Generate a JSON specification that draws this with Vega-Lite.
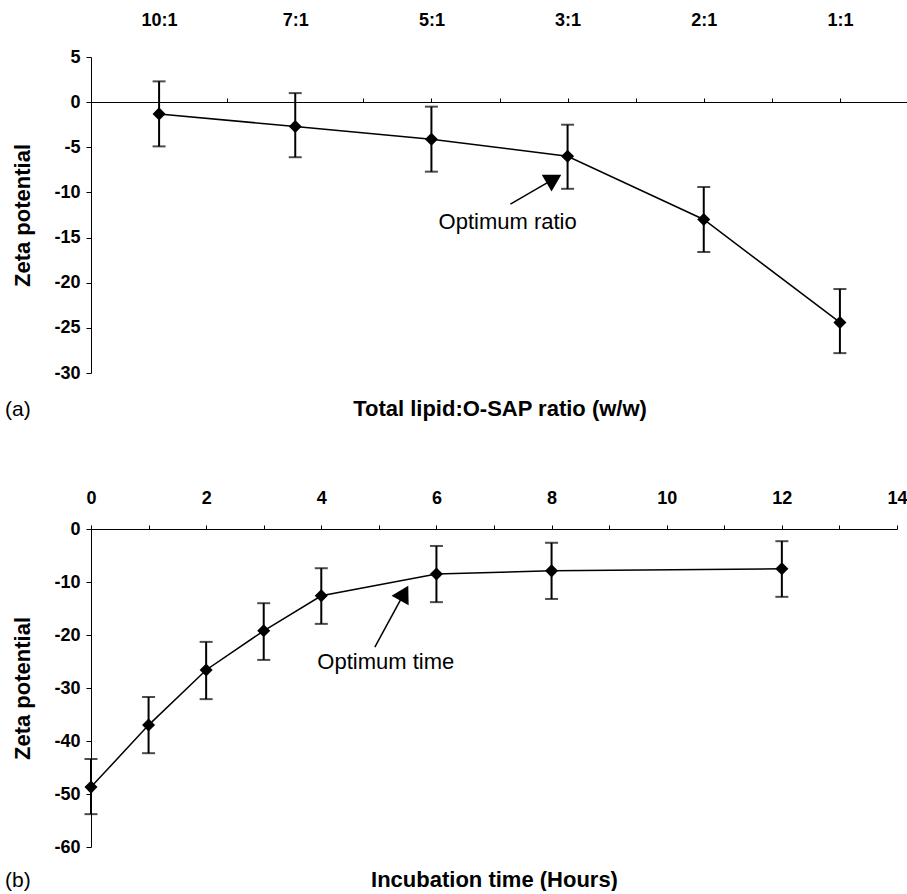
{
  "$schema": "https://vega.github.io/schema/vega-lite/v6.json",
  "background": "white",
  "padding": {"left": 4, "top": 11, "right": 0, "bottom": 0},
  "config": {
    "view": {"stroke": null},
    "font": "Liberation Sans",
    "axis": {
      "grid": false,
      "domainColor": "black",
      "tickColor": "black",
      "labelColor": "black",
      "titleColor": "black",
      "labelFont": "Liberation Sans",
      "titleFont": "Liberation Sans",
      "labelFontWeight": "bold",
      "titleFontWeight": "bold",
      "labelFontSize": 18,
      "titleFontSize": 22,
      "domainWidth": 1,
      "tickWidth": 1
    },
    "title": {"font": "Liberation Sans", "color": "black"}
  },
  "datasets": {
    "ratio": [
      {"idx": 1, "ratio": "10:1", "zeta": -1.3, "lo": -4.9, "hi": 2.3},
      {"idx": 2, "ratio": "7:1", "zeta": -2.7, "lo": -6.1, "hi": 1.0},
      {"idx": 3, "ratio": "5:1", "zeta": -4.1, "lo": -7.7, "hi": -0.5},
      {"idx": 4, "ratio": "3:1", "zeta": -6.0, "lo": -9.6, "hi": -2.5},
      {"idx": 5, "ratio": "2:1", "zeta": -13.0, "lo": -16.6, "hi": -9.4},
      {"idx": 6, "ratio": "1:1", "zeta": -24.4, "lo": -27.8, "hi": -20.7}
    ],
    "time": [
      {"hours": 0, "zeta": -48.7, "lo": -53.8, "hi": -43.4},
      {"hours": 1, "zeta": -37.0, "lo": -42.3, "hi": -31.7},
      {"hours": 2, "zeta": -26.6, "lo": -32.1, "hi": -21.3},
      {"hours": 3, "zeta": -19.2, "lo": -24.7, "hi": -14.0},
      {"hours": 4, "zeta": -12.6, "lo": -17.9, "hi": -7.4},
      {"hours": 6, "zeta": -8.5, "lo": -13.8, "hi": -3.2},
      {"hours": 8, "zeta": -7.9, "lo": -13.2, "hi": -2.6},
      {"hours": 12, "zeta": -7.5, "lo": -12.8, "hi": -2.3}
    ],
    "noteA": [
      {"label": "Optimum ratio", "tx": 3.56, "ty": -13.3, "ax": 3.58, "ay": -11.3, "hx": 3.9, "hy": -8.5}
    ],
    "noteB": [
      {"label": "Optimum time", "tx": 5.12, "ty": -25.1, "ax": 4.93, "ay": -22.3, "hx": 5.44, "hy": -12.1}
    ]
  },
  "spacing": 69,
  "vconcat": [
    {
      "width": 817,
      "height": 316,
      "title": {"text": "(a)", "orient": "bottom", "anchor": "start", "frame": "bounds", "offset": -20, "dx": -7, "fontSize": 21, "fontWeight": "normal"},
      "resolve": {"axis": {"x": "independent"}},
      "layer": [
        {
          "data": {"name": "ratio"},
          "mark": {"type": "line", "color": "black", "strokeWidth": 1.5},
          "encoding": {
            "x": {"field": "idx", "type": "quantitative", "scale": {"domain": [0.5, 6.5], "nice": false, "zero": false},
              "axis": {"orient": "top", "offset": -45, "values": [1, 1.5, 2, 2.5, 3, 3.5, 4, 4.5, 5, 5.5, 6, 6.5], "tickSize": 4,
                "labelExpr": "datum.value % 1 == 0 ? ['', '10:1', '7:1', '5:1', '3:1', '2:1', '1:1'][datum.value] : ''",
                "labelPadding": 69, "labelFlush": false, "labelOverlap": false, "title": null}},
            "y": {"field": "zeta", "type": "quantitative", "scale": {"domain": [-30, 5], "nice": false, "zero": false},
              "axis": {"values": [5, 0, -5, -10, -15, -20, -25, -30], "labelExpr": "toString(datum.value)", "tickSize": 5, "labelPadding": 6, "title": "Zeta potential", "titlePadding": 19}}
          }
        },
        {
          "data": {"name": "ratio"},
          "mark": {"type": "rule", "color": "black", "strokeWidth": 2},
          "encoding": {
            "x": {"field": "idx", "type": "quantitative",
              "axis": {"orient": "bottom", "domain": false, "ticks": false, "labels": false, "title": "Total lipid:O-SAP ratio (w/w)", "titlePadding": 25}},
            "y": {"field": "lo", "type": "quantitative"},
            "y2": {"field": "hi"}
          }
        },
        {
          "data": {"name": "ratio"},
          "mark": {"type": "tick", "color": "black", "orient": "horizontal", "size": 13, "thickness": 2},
          "encoding": {
            "x": {"field": "idx", "type": "quantitative", "axis": null},
            "y": {"field": "lo", "type": "quantitative"}
          }
        },
        {
          "data": {"name": "ratio"},
          "mark": {"type": "tick", "color": "black", "orient": "horizontal", "size": 13, "thickness": 2},
          "encoding": {
            "x": {"field": "idx", "type": "quantitative", "axis": null},
            "y": {"field": "hi", "type": "quantitative"}
          }
        },
        {
          "data": {"name": "ratio"},
          "mark": {"type": "point", "shape": "diamond", "filled": true, "color": "black", "size": 170, "opacity": 1},
          "encoding": {
            "x": {"field": "idx", "type": "quantitative", "axis": null},
            "y": {"field": "zeta", "type": "quantitative"}
          }
        },
        {
          "data": {"name": "noteA"},
          "mark": {"type": "text", "fontSize": 22, "color": "black", "align": "center", "baseline": "middle"},
          "encoding": {
            "x": {"field": "tx", "type": "quantitative", "axis": null},
            "y": {"field": "ty", "type": "quantitative"},
            "text": {"field": "label"}
          }
        },
        {
          "data": {"name": "noteA"},
          "mark": {"type": "rule", "color": "black", "strokeWidth": 1.5},
          "encoding": {
            "x": {"field": "ax", "type": "quantitative", "axis": null},
            "y": {"field": "ay", "type": "quantitative"},
            "x2": {"field": "hx"},
            "y2": {"field": "hy"}
          }
        },
        {
          "data": {"name": "noteA"},
          "mark": {"type": "point", "shape": "triangle-up", "angle": 60, "filled": true, "color": "black", "size": 380, "opacity": 1},
          "encoding": {
            "x": {"field": "hx", "type": "quantitative", "axis": null},
            "y": {"field": "hy", "type": "quantitative"}
          }
        }
      ]
    },
    {
      "width": 806,
      "height": 318,
      "title": {"text": "(b)", "orient": "bottom", "anchor": "start", "frame": "bounds", "offset": -20, "dx": -7, "fontSize": 21, "fontWeight": "normal"},
      "resolve": {"axis": {"x": "independent"}},
      "layer": [
        {
          "data": {"name": "time"},
          "mark": {"type": "line", "color": "black", "strokeWidth": 1.5},
          "encoding": {
            "x": {"field": "hours", "type": "quantitative", "scale": {"domain": [0, 14], "nice": false, "zero": false},
              "axis": {"orient": "top", "values": [0, 1, 2, 3, 4, 5, 6, 7, 8, 9, 10, 11, 12, 13, 14], "tickSize": 4,
                "labelExpr": "datum.value % 2 == 0 ? datum.label : ''",
                "labelPadding": 18, "labelFlush": false, "labelOverlap": false, "title": null}},
            "y": {"field": "zeta", "type": "quantitative", "scale": {"domain": [-60, 0], "nice": false, "zero": false},
              "axis": {"values": [0, -10, -20, -30, -40, -50, -60], "labelExpr": "toString(datum.value)", "tickSize": 5, "labelPadding": 6, "title": "Zeta potential", "titlePadding": 19}}
          }
        },
        {
          "data": {"name": "time"},
          "mark": {"type": "rule", "color": "black", "strokeWidth": 2},
          "encoding": {
            "x": {"field": "hours", "type": "quantitative",
              "axis": {"orient": "bottom", "domain": false, "ticks": false, "labels": false, "title": "Incubation time (Hours)", "titlePadding": 22}},
            "y": {"field": "lo", "type": "quantitative"},
            "y2": {"field": "hi"}
          }
        },
        {
          "data": {"name": "time"},
          "mark": {"type": "tick", "color": "black", "orient": "horizontal", "size": 13, "thickness": 2},
          "encoding": {
            "x": {"field": "hours", "type": "quantitative", "axis": null},
            "y": {"field": "lo", "type": "quantitative"}
          }
        },
        {
          "data": {"name": "time"},
          "mark": {"type": "tick", "color": "black", "orient": "horizontal", "size": 13, "thickness": 2},
          "encoding": {
            "x": {"field": "hours", "type": "quantitative", "axis": null},
            "y": {"field": "hi", "type": "quantitative"}
          }
        },
        {
          "data": {"name": "time"},
          "mark": {"type": "point", "shape": "diamond", "filled": true, "color": "black", "size": 170, "opacity": 1},
          "encoding": {
            "x": {"field": "hours", "type": "quantitative", "axis": null},
            "y": {"field": "zeta", "type": "quantitative"}
          }
        },
        {
          "data": {"name": "noteB"},
          "mark": {"type": "text", "fontSize": 22, "color": "black", "align": "center", "baseline": "middle"},
          "encoding": {
            "x": {"field": "tx", "type": "quantitative", "axis": null},
            "y": {"field": "ty", "type": "quantitative"},
            "text": {"field": "label"}
          }
        },
        {
          "data": {"name": "noteB"},
          "mark": {"type": "rule", "color": "black", "strokeWidth": 1.5},
          "encoding": {
            "x": {"field": "ax", "type": "quantitative", "axis": null},
            "y": {"field": "ay", "type": "quantitative"},
            "x2": {"field": "hx"},
            "y2": {"field": "hy"}
          }
        },
        {
          "data": {"name": "noteB"},
          "mark": {"type": "point", "shape": "triangle-up", "angle": 29, "filled": true, "color": "black", "size": 380, "opacity": 1},
          "encoding": {
            "x": {"field": "hx", "type": "quantitative", "axis": null},
            "y": {"field": "hy", "type": "quantitative"}
          }
        }
      ]
    }
  ]
}
